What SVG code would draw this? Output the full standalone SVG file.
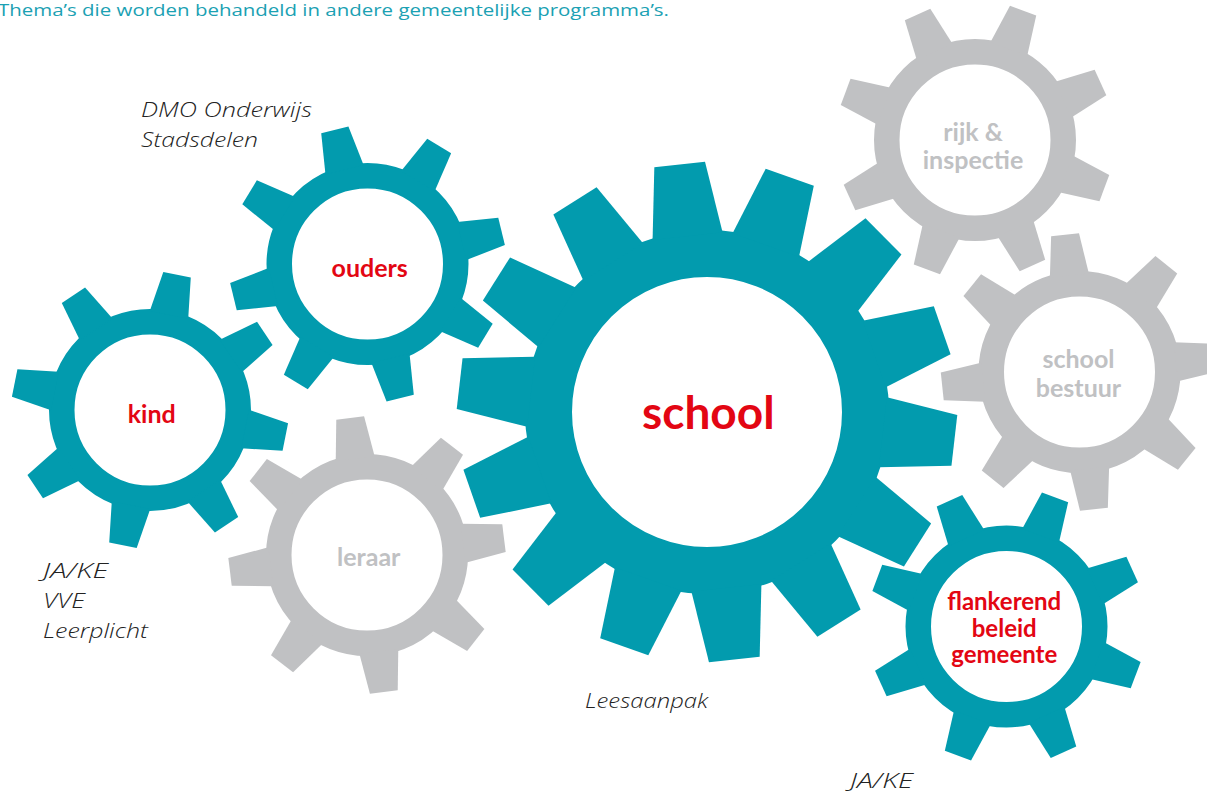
<svg xmlns="http://www.w3.org/2000/svg" width="1207" height="797" viewBox="0 0 1207 797">
<style>
.teal{fill:#029bae}
.gray{fill:#c0c1c3}
.ringT{fill:none;stroke:#029bae}
.ringG{fill:none;stroke:#c0c1c3}
.lbl{font-family:Lato,"Liberation Sans",sans-serif;font-weight:bold;font-size:25px;text-anchor:middle}
.red{fill:#e30613}
.gtxt{fill:#c0c1c3}
.note{font-family:"Open Sans","Liberation Sans",sans-serif;font-style:italic;font-weight:300;font-size:20px;fill:#222}
.title{font-family:"Open Sans","Liberation Sans",sans-serif;font-size:17px;fill:#1ba1b3}
</style>
<defs>
<polygon id="t8" points="-19.6,-97 19.6,-97 14,-138 -14,-138"/>
<polygon id="tL" points="-35.2,-177 35.2,-177 25.5,-249 -25.5,-249"/>
</defs>
<text class="title" x="-2" y="16" textLength="671" lengthAdjust="spacingAndGlyphs">Thema’s die worden behandeld in andere gemeentelijke programma’s.</text>

<g id="rijk" class="gray" transform="translate(975,140)">
<circle class="ringG" r="88.25" stroke-width="25.5"/>
<use href="#t8" transform="rotate(-24.6)"/><use href="#t8" transform="rotate(20.4)"/><use href="#t8" transform="rotate(65.4)"/><use href="#t8" transform="rotate(110.4)"/><use href="#t8" transform="rotate(155.4)"/><use href="#t8" transform="rotate(200.4)"/><use href="#t8" transform="rotate(245.4)"/><use href="#t8" transform="rotate(290.4)"/>
<text class="lbl gtxt" x="-2" y="1">rijk &amp;</text>
<text class="lbl gtxt" x="-2" y="29">inspectie</text>
</g>

<g id="bestuur" class="gray" transform="translate(1079.5,372)">
<circle class="ringG" r="88.25" stroke-width="25.5"/>
<use href="#t8" transform="rotate(-6)"/><use href="#t8" transform="rotate(39)"/><use href="#t8" transform="rotate(84)"/><use href="#t8" transform="rotate(129)"/><use href="#t8" transform="rotate(174)"/><use href="#t8" transform="rotate(219)"/><use href="#t8" transform="rotate(264)"/><use href="#t8" transform="rotate(309)"/>
<text class="lbl gtxt" x="-1" y="-3.7">school</text>
<text class="lbl gtxt" x="-1" y="24.7">bestuur</text>
</g>

<g id="leraar" class="gray" transform="translate(367,555)">
<circle class="ringG" r="88.25" stroke-width="25.5"/>
<use href="#t8" transform="rotate(-7)"/><use href="#t8" transform="rotate(38)"/><use href="#t8" transform="rotate(83)"/><use href="#t8" transform="rotate(128)"/><use href="#t8" transform="rotate(173)"/><use href="#t8" transform="rotate(218)"/><use href="#t8" transform="rotate(263)"/><use href="#t8" transform="rotate(308)"/>
<text class="lbl gtxt" x="1.7" y="11">leraar</text>
</g>

<g id="kind" class="teal" transform="translate(150,410)">
<circle class="ringT" r="88.25" stroke-width="25.5"/>
<use href="#t8" transform="rotate(11.3)"/><use href="#t8" transform="rotate(56.3)"/><use href="#t8" transform="rotate(101.3)"/><use href="#t8" transform="rotate(146.3)"/><use href="#t8" transform="rotate(191.3)"/><use href="#t8" transform="rotate(236.3)"/><use href="#t8" transform="rotate(281.3)"/><use href="#t8" transform="rotate(326.3)"/>
<text class="lbl red" x="1.7" y="12.7">kind</text>
</g>

<g id="ouders" class="teal" transform="translate(367.5,264)">
<circle class="ringT" r="88.25" stroke-width="25.5"/>
<use href="#t8" transform="rotate(-13.7)"/><use href="#t8" transform="rotate(31.3)"/><use href="#t8" transform="rotate(76.3)"/><use href="#t8" transform="rotate(121.3)"/><use href="#t8" transform="rotate(166.3)"/><use href="#t8" transform="rotate(211.3)"/><use href="#t8" transform="rotate(256.3)"/><use href="#t8" transform="rotate(301.3)"/>
<text class="lbl red" x="2.2" y="13.3">ouders</text>
</g>

<g id="school" class="teal" transform="translate(707,412)">
<circle class="ringT" r="158.5" stroke-width="47"/>
<use href="#tL" transform="rotate(-6.3)"/><use href="#tL" transform="rotate(19.41)"/><use href="#tL" transform="rotate(45.13)"/><use href="#tL" transform="rotate(70.84)"/><use href="#tL" transform="rotate(96.56)"/><use href="#tL" transform="rotate(122.27)"/><use href="#tL" transform="rotate(147.98)"/><use href="#tL" transform="rotate(173.7)"/><use href="#tL" transform="rotate(199.41)"/><use href="#tL" transform="rotate(225.13)"/><use href="#tL" transform="rotate(250.84)"/><use href="#tL" transform="rotate(276.56)"/><use href="#tL" transform="rotate(302.27)"/><use href="#tL" transform="rotate(327.98)"/>
<text class="lbl red" x="1.3" y="17.3" style="font-size:46px">school</text>
</g>

<g id="flankerend" class="teal" transform="translate(1006.5,626.5)">
<circle class="ringT" r="88.25" stroke-width="25.5"/>
<use href="#t8" transform="rotate(-24.4)"/><use href="#t8" transform="rotate(20.6)"/><use href="#t8" transform="rotate(65.6)"/><use href="#t8" transform="rotate(110.6)"/><use href="#t8" transform="rotate(155.6)"/><use href="#t8" transform="rotate(200.6)"/><use href="#t8" transform="rotate(245.6)"/><use href="#t8" transform="rotate(290.6)"/>
<text class="lbl red" x="-2.3" y="-16.5" style="font-size:24px">flankerend</text>
<text class="lbl red" x="-2.3" y="10.2" style="font-size:24px">beleid</text>
<text class="lbl red" x="-2.3" y="36.9" style="font-size:24px">gemeente</text>
</g>

<g id="notes">
<text class="note" x="141" y="116.7" textLength="171" lengthAdjust="spacingAndGlyphs">DMO Onderwijs</text>
<text class="note" x="141" y="147.3" textLength="117" lengthAdjust="spacingAndGlyphs">Stadsdelen</text>
<text class="note" x="43" y="578.3" textLength="65" lengthAdjust="spacingAndGlyphs">JA/KE</text>
<text class="note" x="43" y="608.3" textLength="42" lengthAdjust="spacingAndGlyphs">VVE</text>
<text class="note" x="43" y="638" textLength="105" lengthAdjust="spacingAndGlyphs">Leerplicht</text>
<text class="note" x="585" y="707.7" textLength="123" lengthAdjust="spacingAndGlyphs">Leesaanpak</text>
<text class="note" x="850" y="788.3" textLength="63" lengthAdjust="spacingAndGlyphs">JA/KE</text>
</g>
</svg>
